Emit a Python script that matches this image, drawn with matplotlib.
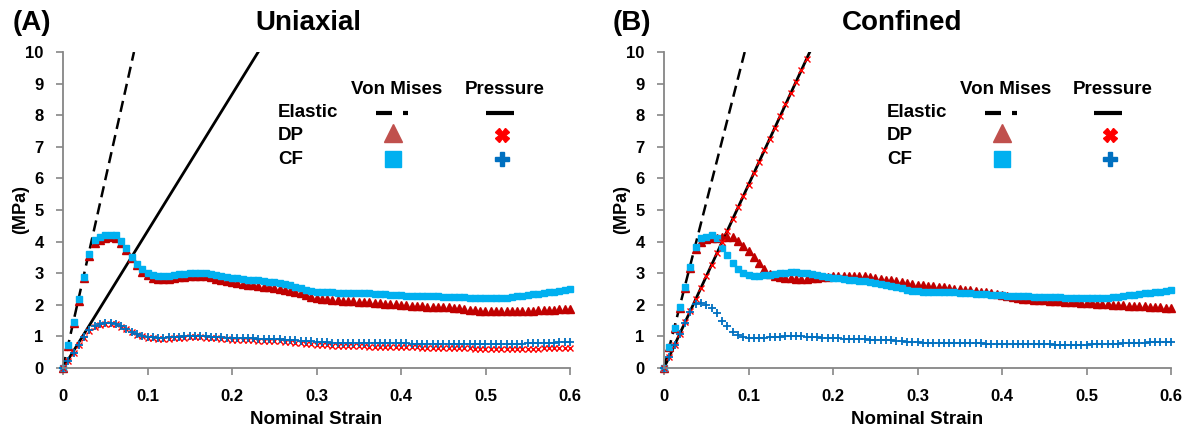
import numpy as np
import matplotlib
matplotlib.use("Agg")
import matplotlib.pyplot as plt

plt.rcParams['font.family'] = ['Liberation Sans', 'DejaVu Sans']

# nominal strain increments written by the solver (0 .. 0.6, step 0.00625)
strain = np.linspace(0, 0.6, 97)

# (A) uniaxial, stress in MPa
a_vm_dp = [0.00, 0.70, 1.42, 2.12, 2.85, 3.55, 3.95, 4.05, 4.10, 4.13, 4.12, 3.95, 3.72, 3.47, 3.25, 3.05,
           2.93, 2.86, 2.82, 2.81, 2.82, 2.84, 2.87, 2.89, 2.90, 2.91, 2.91, 2.90, 2.87, 2.83, 2.79, 2.76,
           2.73, 2.70, 2.67, 2.64, 2.62, 2.59, 2.57, 2.55, 2.53, 2.51, 2.48, 2.45, 2.41, 2.36, 2.31, 2.26,
           2.22, 2.19, 2.17, 2.15, 2.14, 2.13, 2.12, 2.11, 2.10, 2.09, 2.08, 2.06, 2.05, 2.04, 2.02, 2.01,
           2.00, 1.98, 1.97, 1.96, 1.95, 1.94, 1.94, 1.93, 1.93, 1.92, 1.91, 1.89, 1.87, 1.85, 1.83, 1.81,
           1.80, 1.79, 1.79, 1.79, 1.79, 1.79, 1.79, 1.80, 1.80, 1.81, 1.82, 1.83, 1.84, 1.85, 1.86, 1.87, 1.87]
a_vm_cf = [0.00, 0.72, 1.45, 2.17, 2.89, 3.61, 4.05, 4.15, 4.20, 4.22, 4.22, 4.02, 3.79, 3.52, 3.30, 3.12,
           3.00, 2.93, 2.90, 2.90, 2.91, 2.93, 2.96, 2.99, 3.01, 3.02, 3.02, 3.01, 2.98, 2.94, 2.91, 2.88,
           2.86, 2.84, 2.82, 2.80, 2.79, 2.77, 2.75, 2.73, 2.71, 2.69, 2.66, 2.62, 2.57, 2.52, 2.47, 2.43,
           2.41, 2.40, 2.39, 2.39, 2.38, 2.38, 2.38, 2.38, 2.37, 2.37, 2.36, 2.35, 2.34, 2.33, 2.32, 2.31,
           2.30, 2.29, 2.28, 2.28, 2.27, 2.27, 2.27, 2.27, 2.26, 2.26, 2.25, 2.25, 2.24, 2.23, 2.22, 2.21,
           2.20, 2.20, 2.21, 2.22, 2.23, 2.25, 2.27, 2.29, 2.31, 2.33, 2.35, 2.37, 2.39, 2.41, 2.43, 2.46, 2.49]
a_pr_dp = [0.00, 0.22, 0.46, 0.72, 0.96, 1.18, 1.31, 1.37, 1.39, 1.39, 1.38, 1.31, 1.22, 1.13, 1.05, 1.00,
           0.96, 0.94, 0.93, 0.93, 0.93, 0.94, 0.95, 0.96, 0.97, 0.97, 0.97, 0.96, 0.95, 0.94, 0.92, 0.91,
           0.90, 0.89, 0.89, 0.88, 0.88, 0.87, 0.87, 0.86, 0.85, 0.84, 0.83, 0.81, 0.80, 0.78, 0.76, 0.75,
           0.73, 0.72, 0.72, 0.71, 0.71, 0.70, 0.70, 0.69, 0.69, 0.69, 0.68, 0.68, 0.67, 0.67, 0.67, 0.66,
           0.66, 0.65, 0.65, 0.65, 0.64, 0.64, 0.64, 0.63, 0.63, 0.63, 0.62, 0.62, 0.62, 0.62, 0.61, 0.61,
           0.61, 0.61, 0.60, 0.60, 0.60, 0.60, 0.60, 0.61, 0.61, 0.61, 0.61, 0.62, 0.62, 0.62, 0.63, 0.63, 0.63]
a_pr_cf = [0.00, 0.22, 0.47, 0.73, 0.98, 1.21, 1.34, 1.40, 1.41, 1.41, 1.40, 1.33, 1.24, 1.15, 1.07, 1.02,
           0.99, 0.97, 0.96, 0.96, 0.97, 0.98, 0.99, 1.00, 1.01, 1.01, 1.01, 1.00, 0.99, 0.98, 0.97, 0.96,
           0.95, 0.95, 0.94, 0.94, 0.94, 0.93, 0.93, 0.93, 0.92, 0.91, 0.90, 0.89, 0.88, 0.86, 0.85, 0.84,
           0.82, 0.81, 0.81, 0.80, 0.80, 0.80, 0.80, 0.79, 0.79, 0.79, 0.79, 0.79, 0.79, 0.78, 0.78, 0.78,
           0.78, 0.78, 0.77, 0.77, 0.77, 0.77, 0.76, 0.76, 0.76, 0.76, 0.75, 0.75, 0.75, 0.75, 0.75, 0.75,
           0.75, 0.75, 0.75, 0.75, 0.76, 0.76, 0.77, 0.77, 0.78, 0.78, 0.79, 0.79, 0.80, 0.80, 0.81, 0.82, 0.83]
a_el_vm = ([0, 0.084], [0, 10])
a_el_pr = ([0, 0.231], [0, 10])

# (B) confined
b_vm_dp = [0.00, 0.66, 1.26, 1.90, 2.52, 3.15, 3.78, 4.00, 4.07, 4.10, 4.12, 4.13, 4.13, 4.13, 4.03, 3.87,
           3.70, 3.52, 3.33, 3.13, 2.97, 2.91, 2.87, 2.85, 2.84, 2.83, 2.83, 2.83, 2.84, 2.86, 2.88, 2.89,
           2.90, 2.91, 2.91, 2.92, 2.92, 2.91, 2.90, 2.88, 2.86, 2.83, 2.80, 2.77, 2.74, 2.71, 2.68, 2.66,
           2.64, 2.62, 2.60, 2.58, 2.57, 2.55, 2.53, 2.51, 2.50, 2.48, 2.46, 2.44, 2.42, 2.40, 2.37, 2.33,
           2.30, 2.27, 2.24, 2.21, 2.19, 2.17, 2.16, 2.15, 2.14, 2.13, 2.12, 2.11, 2.10, 2.09, 2.08, 2.07,
           2.06, 2.05, 2.04, 2.02, 2.01, 2.00, 1.99, 1.98, 1.97, 1.96, 1.96, 1.95, 1.94, 1.93, 1.92, 1.91, 1.90]
b_vm_cf = [0.00, 0.66, 1.26, 1.92, 2.55, 3.20, 3.82, 4.10, 4.16, 4.20, 4.12, 3.80, 3.59, 3.33, 3.14, 3.00,
           2.94, 2.92, 2.92, 2.93, 2.95, 2.98, 3.00, 3.02, 3.03, 3.03, 3.02, 3.00, 2.97, 2.94, 2.91, 2.88,
           2.86, 2.84, 2.82, 2.80, 2.78, 2.76, 2.74, 2.72, 2.70, 2.67, 2.64, 2.60, 2.56, 2.52, 2.48, 2.45,
           2.43, 2.42, 2.41, 2.40, 2.40, 2.40, 2.39, 2.39, 2.38, 2.37, 2.36, 2.35, 2.34, 2.33, 2.32, 2.31,
           2.30, 2.29, 2.28, 2.28, 2.27, 2.27, 2.26, 2.26, 2.25, 2.25, 2.24, 2.24, 2.23, 2.22, 2.21, 2.20,
           2.20, 2.20, 2.21, 2.22, 2.23, 2.24, 2.26, 2.28, 2.30, 2.32, 2.34, 2.36, 2.38, 2.40, 2.42, 2.45, 2.48]
b_pr_dp = [0.00, 0.36, 0.73, 1.09, 1.45, 1.81, 2.18, 2.54, 2.90, 3.26, 3.63, 3.99, 4.35, 4.71,
           5.08, 5.44, 5.80, 6.16, 6.53, 6.89, 7.25, 7.61, 7.98, 8.34, 8.70, 9.06, 9.43, 9.79]
b_pr_cf = [0.00, 0.36, 0.72, 1.07, 1.42, 1.76, 2.02, 2.07, 1.99, 1.90, 1.73, 1.50, 1.33, 1.15, 1.03, 0.98,
           0.96, 0.95, 0.95, 0.96, 0.97, 0.98, 0.99, 1.00, 1.00, 1.00, 1.00, 0.99, 0.98, 0.97, 0.96, 0.95,
           0.95, 0.94, 0.93, 0.93, 0.92, 0.91, 0.91, 0.90, 0.90, 0.89, 0.88, 0.88, 0.87, 0.85, 0.83, 0.82,
           0.81, 0.80, 0.80, 0.80, 0.79, 0.79, 0.79, 0.79, 0.78, 0.78, 0.78, 0.78, 0.78, 0.77, 0.77, 0.77,
           0.77, 0.76, 0.76, 0.76, 0.76, 0.75, 0.75, 0.75, 0.75, 0.75, 0.74, 0.74, 0.74, 0.74, 0.74, 0.74,
           0.74, 0.75, 0.75, 0.76, 0.76, 0.77, 0.77, 0.78, 0.78, 0.79, 0.79, 0.80, 0.81, 0.81, 0.82, 0.83, 0.83]
b_el_vm = ([0, 0.0955], [0, 10])
b_el_pr = ([0, 0.1725], [0, 10])

x_ticks = [0, 0.1, 0.2, 0.3, 0.4, 0.5, 0.6]
y_ticks = list(range(0, 11))

TRI = '#C00000'
TRI_KEY = '#C0504D'
SQ = '#00B0F0'
XRED = '#FF0000'
PLUS = '#0070C0'
GRID = '#868686'

W, H = 1192, 432
fig = plt.figure(figsize=(W / 100, H / 100), dpi=100)


def px(v):
    return v / 507.0


def draw_panel(ax, vm_dp, vm_cf, pr_dp, pr_cf, el_vm, el_pr, col_vm, col_pr):
    ax.plot(*el_vm, color='black', lw=1.8, dashes=(4.5, 2.5))
    ax.plot(*el_pr, color='black', lw=2.0)
    ax.plot(strain[:len(vm_dp)], vm_dp, ls='none', marker='^', ms=5.5, color=TRI, mec=TRI, clip_on=False)
    ax.plot(strain[:len(vm_cf)], vm_cf, ls='none', marker='s', ms=4.3, color=SQ, mec=SQ, clip_on=False)
    ax.plot(strain[:len(pr_dp)], pr_dp, ls='none', marker='x', ms=4.6, mew=1.0, color=XRED, clip_on=False)
    ax.plot(strain[:len(pr_cf)], pr_cf, ls='none', marker='+', ms=6, mew=1.3, color=PLUS, clip_on=False)

    ax.set_xlim(0, 0.6)
    ax.set_ylim(0, 10)
    ax.set_xticks(x_ticks)
    ax.set_xticklabels([f"{v:g}" for v in x_ticks])
    ax.set_yticks(y_ticks)
    ax.set_yticklabels([str(v) for v in y_ticks])
    for lab in ax.get_xticklabels() + ax.get_yticklabels():
        lab.set_fontweight('bold')
    ax.tick_params(axis='both', direction='out', length=5, width=1.2, color=GRID,
                   labelsize=12, labelcolor='black')
    ax.tick_params(axis='x', pad=10)
    ax.tick_params(axis='y', pad=9)
    for s in ('top', 'right'):
        ax.spines[s].set_visible(False)
    for s in ('left', 'bottom'):
        ax.spines[s].set_color(GRID)
        ax.spines[s].set_linewidth(1.3)
    ax.set_xlabel('Nominal Strain', fontsize=13.5, fontweight='bold', labelpad=5)
    ax.set_ylabel('(MPa)', fontsize=13, fontweight='bold')
    ax.yaxis.set_label_coords(-0.067, 0.5)

    # key table: rows for Elastic / DP / CF, columns for Von Mises / Pressure
    tr = ax.transAxes
    y_head, y_el, y_dp, y_cf = 0.880, 0.807, 0.743, 0.660
    kw = dict(transform=tr, fontsize=13.5, fontweight='bold', va='center')
    ax.text(col_vm + px(4), y_head, 'Von Mises', ha='center', **kw)
    ax.text(col_pr + px(3), y_head, 'Pressure', ha='center', **kw)
    for label, y in (('Elastic', y_el), ('DP', y_dp - 0.006), ('CF', y_cf)):
        ax.text(col_vm - px(115), y, label, ha='left', **kw)
    ax.plot([col_vm - px(17), col_vm - px(1.5)], [y_el, y_el], color='black', lw=3,
            solid_capstyle='butt', transform=tr)
    ax.plot([col_vm + px(10), col_vm + px(15)], [y_el, y_el], color='black', lw=3,
            solid_capstyle='butt', transform=tr)
    ax.plot([col_pr - px(16), col_pr + px(12)], [y_el, y_el], color='black', lw=3,
            solid_capstyle='butt', transform=tr)
    ax.plot([col_vm], [y_dp], marker='^', ms=13, color=TRI_KEY, mec=TRI_KEY, transform=tr)
    ax.plot([col_vm], [y_cf], marker='s', ms=12, color=SQ, mec=SQ, transform=tr)
    ax.plot([col_pr], [y_dp - 0.006], marker='X', ms=10, color=XRED, mec=XRED, transform=tr)
    ax.plot([col_pr], [y_cf], marker='P', ms=10, color=PLUS, mec=PLUS, transform=tr)


ax_a = fig.add_axes([63 / W, (H - 368) / H, 507 / W, 316 / H])
ax_b = fig.add_axes([664 / W, (H - 368) / H, 507 / W, 316 / H])

draw_panel(ax_a, a_vm_dp, a_vm_cf, a_pr_dp, a_pr_cf, a_el_vm, a_el_pr,
           col_vm=px(393 - 63), col_pr=px(502 - 63))
draw_panel(ax_b, b_vm_dp, b_vm_cf, b_pr_dp, b_pr_cf, b_el_vm, b_el_pr,
           col_vm=px(1002 - 664), col_pr=px(1110 - 664))

ty = 1 - 23 / H
fig.text(13 / W, ty, '(A)', fontsize=20, fontweight='bold', ha='left', va='center')
fig.text(308 / W, ty, 'Uniaxial', fontsize=20, fontweight='bold', ha='center', va='center')
fig.text(613 / W, ty, '(B)', fontsize=20, fontweight='bold', ha='left', va='center')
fig.text(902 / W, ty, 'Confined', fontsize=20, fontweight='bold', ha='center', va='center')

fig.savefig('out.png', dpi=100)
